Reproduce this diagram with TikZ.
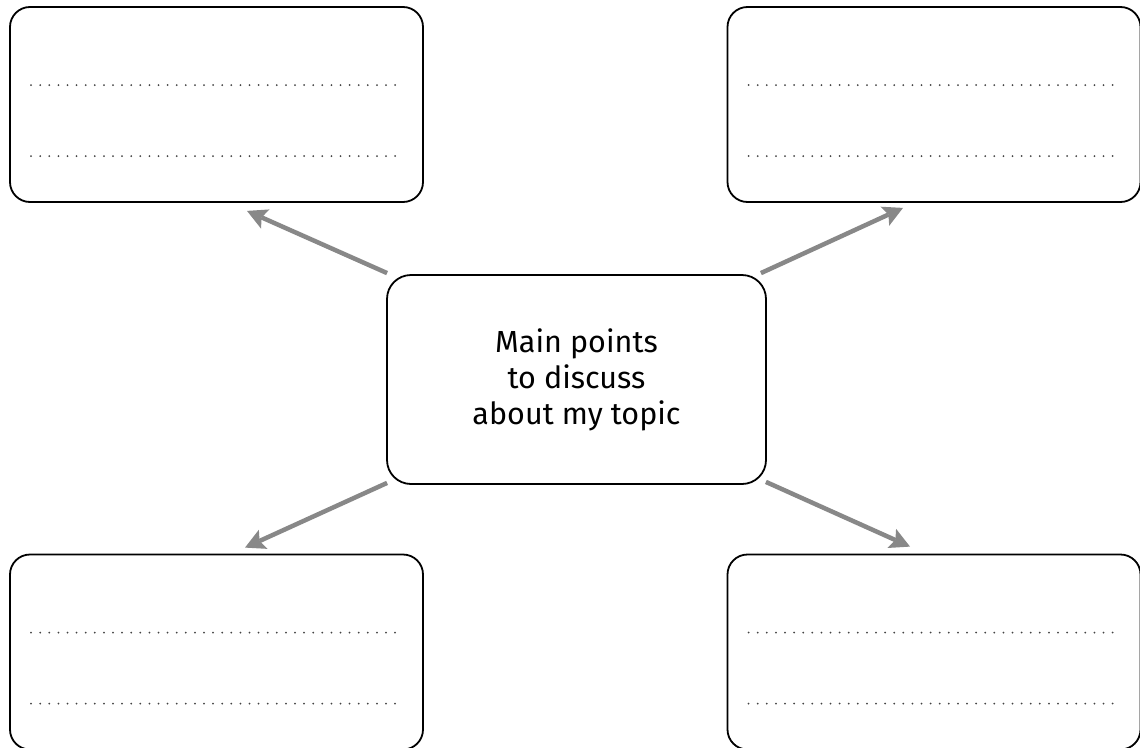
\documentclass[tikz,border=0pt]{standalone}
\usepackage{fontspec}
\setmainfont{Fira Sans}
\usetikzlibrary{arrows.meta,calc}
\definecolor{arrgray}{HTML}{888888}
\definecolor{dotgray}{HTML}{444444}
\tikzset{
  x=1pt,y=-1pt,
  sidebox/.style={draw=black,line width=1.8pt,rounded corners=20pt,minimum width=413pt,minimum height=195pt,inner sep=0pt},
  mainbox/.style={draw=black,line width=1.8pt,rounded corners=24pt,minimum width=379pt,minimum height=209pt,align=center,inner sep=0pt,
    font=\fontsize{30.5}{36}\selectfont},
  arr/.style={draw=arrgray,line width=4.5pt,-{Stealth[length=20pt,width=21pt,inset=4pt,line width=0pt]}},
  dotline/.style={draw=dotgray,line width=2pt,line cap=round,dash pattern=on 0pt off 9.1pt}
}
\begin{document}
\begin{tikzpicture}
\useasboundingbox (0,0) rectangle (1140,747);
\clip (0,0) rectangle (1140,747);
\fill[white] (0,0) rectangle (1140,747);
\node[sidebox] (tl) at (216.5,104.5) {};
\node[sidebox] (tr) at (934,104.5) {};
\node[sidebox] (bl) at (216.5,652) {};
\node[sidebox] (br) at (934,652) {};
\node[mainbox] (c) at (576.5,379.5) {Main points\\to discuss\\about my topic};
\foreach \b in {tl,tr,bl,br}{
  \draw[dotline] ($(\b.north west)+(22,79)$) -- ($(\b.north east)+(-26,79)$);
  \draw[dotline] ($(\b.north west)+(22,150)$) -- ($(\b.north east)+(-26,150)$);
}
\draw[arr] ($(c.north west)+(1,-1)$) -- ($(tl.south)+(30.5,8)$);
\draw[arr] ($(c.north east)+(-6,-1)$) -- ($(tr.south)+(-31,5)$);
\draw[arr] ($(c.south west)+(1,-2)$) -- ($(bl.north)+(28.5,-6)$);
\draw[arr] ($(c.south east)+(-1,-3)$) -- ($(br.north)+(-24,-7)$);
\end{tikzpicture}
\end{document}
